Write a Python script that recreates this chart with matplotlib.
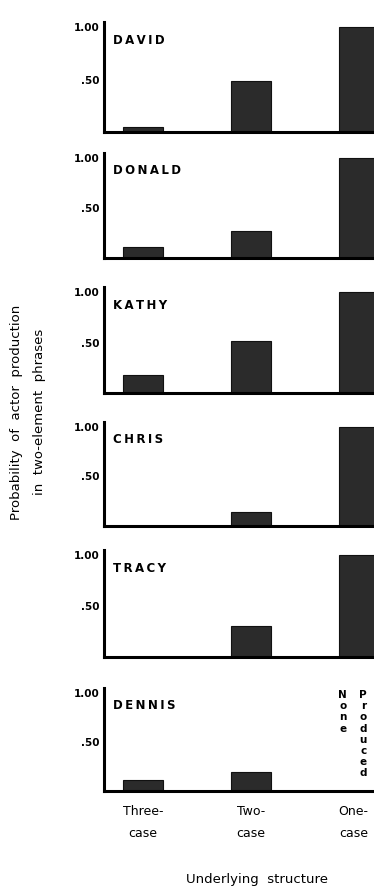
import matplotlib
matplotlib.use("Agg")
import matplotlib.pyplot as plt

# data
children = ["DAVID", "DONALD", "KATHY", "CHRIS", "TRACY", "DENNIS"]
structures = ["Three-\ncase", "Two-\ncase", "One-\ncase"]
three_case = [0.05, 0.11, 0.18, 0.0, 0.0, 0.11]
two_case = [0.49, 0.27, 0.52, 0.14, 0.30, 0.19]
one_case = [1.0, 1.0, 1.0, 1.0, 1.0, None]   # None = none produced

# panel placement in pixels (top of axis, baseline)
W, H = 374, 891
panel_px = [(22, 132), (153, 258), (287, 393), (422, 526), (550, 657), (688, 791)]

bar_color = "#2b2b2b"
fw = "bold"

fig = plt.figure(figsize=(W / 100, H / 100), dpi=100)

for i, name in enumerate(children):
    top, base = panel_px[i]
    ax = fig.add_axes([104 / W, 1 - base / H, 1 - 104 / W, (base - top) / H])
    vals = [three_case[i], two_case[i], one_case[i]]
    xs = [k for k, v in enumerate(vals) if v]
    hs = [v for v in vals if v]
    ax.bar(xs, hs, width=0.37, color=bar_color, edgecolor="#111111", linewidth=0.8)

    ax.set_xlim(-0.36, 2.14)
    ax.set_ylim(0, 1.05)
    for s in ["top", "right"]:
        ax.spines[s].set_visible(False)
    ax.spines["left"].set_linewidth(2.2)
    ax.spines["bottom"].set_linewidth(2.2)
    ax.set_xticks([])
    ax.set_yticks([0.5, 1.0])
    ax.set_yticklabels([".50", "1.00"], fontsize=7.5, fontweight=fw)
    ax.tick_params(axis="y", length=0, pad=3)
    ax.patch.set_alpha(0)

    # spaced-out capitals like the original lettering
    ax.text(0.035, 0.83, "\u2009".join(name), transform=ax.transAxes, fontsize=8.5,
            fontweight=fw, ha="left", va="center")

    if one_case[i] is None:
        ax.text(1.85, 0.98, "\n".join("None"), fontsize=7.5, fontweight=fw,
                ha="center", va="top", linespacing=1.15,
                transform=ax.get_xaxis_transform())
        ax.text(2.04, 0.98, "\n".join("Produced"), fontsize=7.5, fontweight=fw,
                ha="center", va="top", linespacing=1.15,
                transform=ax.get_xaxis_transform())

    if i == len(children) - 1:
        for k, lab in enumerate(structures):
            ax.text(k - 0.05 * (k == 2), -0.14, lab, fontsize=9, ha="center", va="top",
                    linespacing=1.9, transform=ax.get_xaxis_transform())

fig.text(257 / W, 1 - 880 / H, "Underlying  structure", fontsize=9.5,
         ha="center", va="center")
fig.text(28 / W, 1 - 412 / H,
         "Probability  of  actor  production\nin  two-element  phrases",
         fontsize=9.5, rotation=90, ha="center", va="center", linespacing=2.0)

fig.savefig("out.png", dpi=100)
